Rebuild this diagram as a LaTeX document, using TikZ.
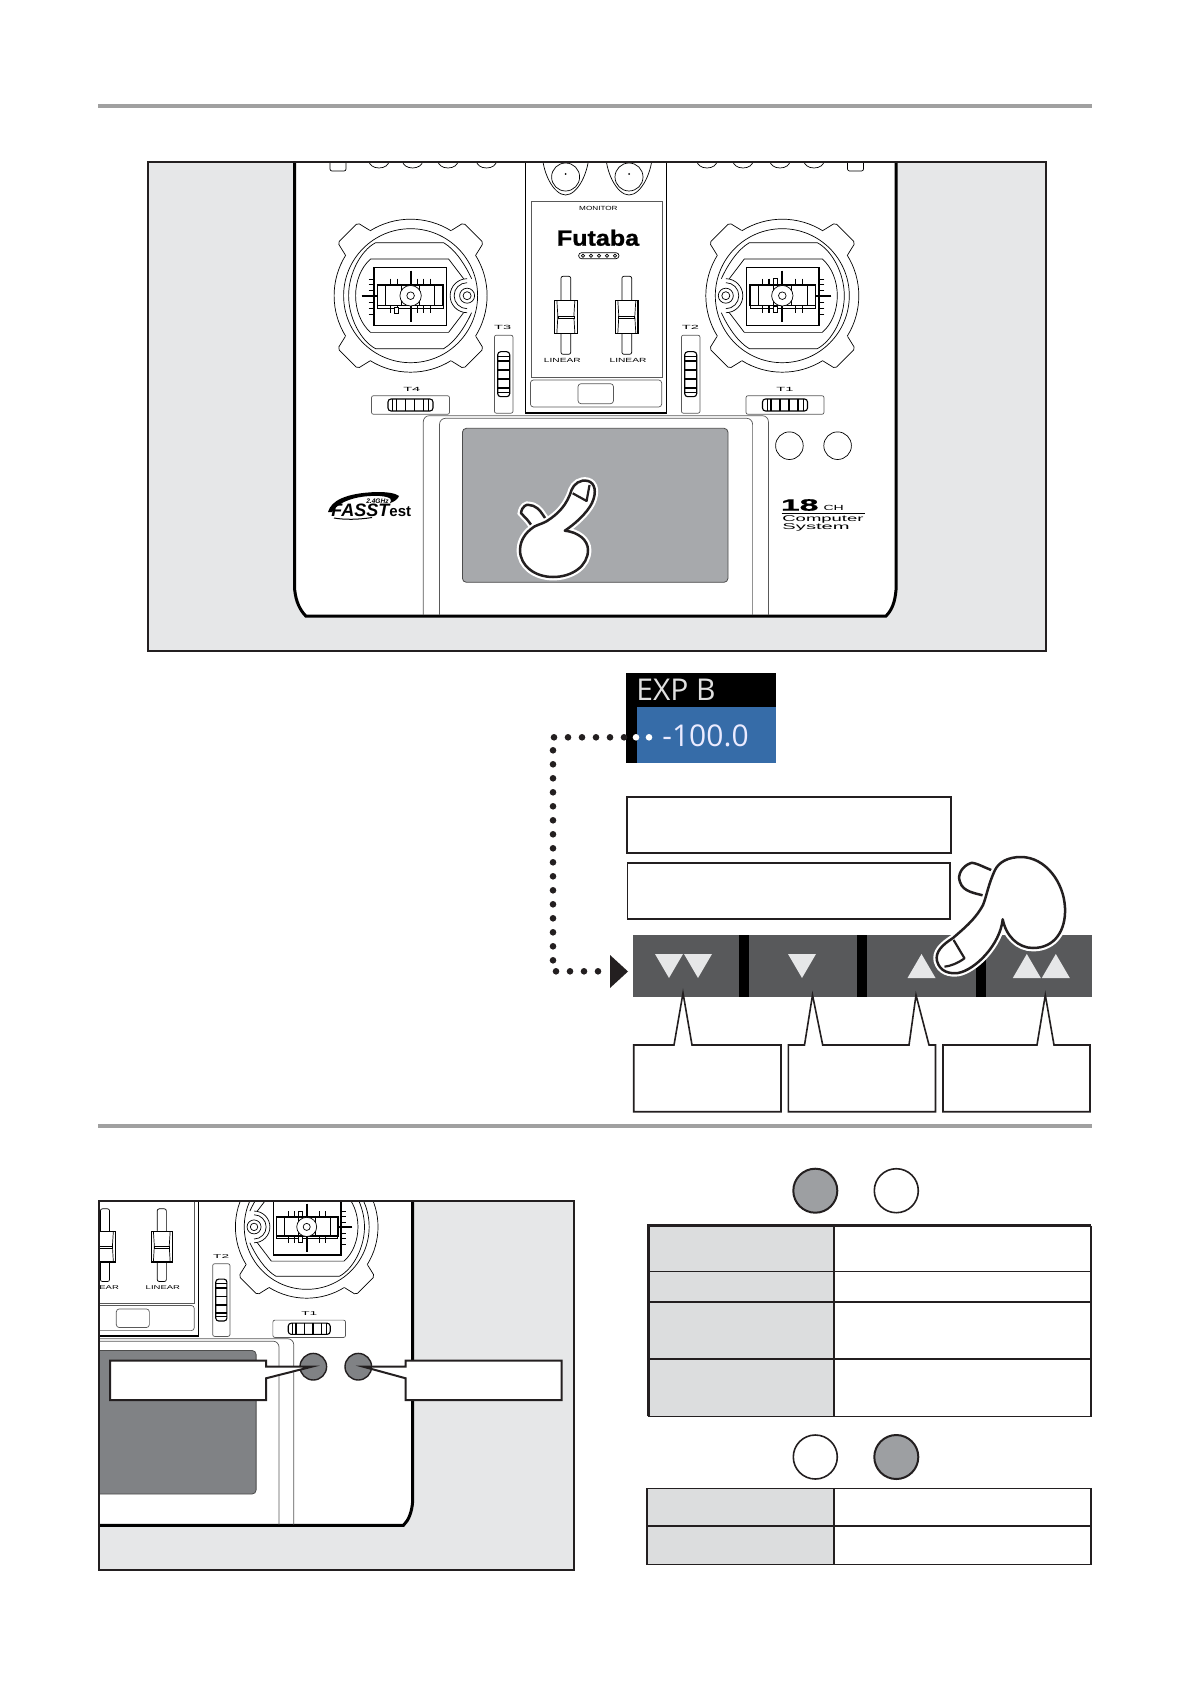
\documentclass[tikz,border=0pt]{standalone}
\usepackage{fontspec}
\setsansfont{Liberation Sans}
\newfontfamily\expfont{Open Sans}
\newfontfamily\logofont{Liberation Sans}[BoldFeatures={FakeBold=1.2,FakeStretch=1.14}]
\usetikzlibrary{positioning}
\definecolor{inkblack}{HTML}{231F20}
\definecolor{panelgray}{HTML}{E6E7E8}
\definecolor{screenlight}{HTML}{A7A9AC}
\definecolor{screendark}{HTML}{808285}
\definecolor{bargray}{HTML}{58595B}
\definecolor{rulegray}{HTML}{A0A0A0}
\definecolor{cellgray}{HTML}{DCDDDE}
\definecolor{ledgray}{HTML}{9D9FA2}
\definecolor{valueblue}{HTML}{366CA8}
\tikzset{
  hairline/.style={line width=.35pt, draw=black},
  softline/.style={line width=.35pt, draw=black!65},
  inkline/.style={line width=1.25pt, draw=inkblack},
  boxline/.style={line width=1pt, draw=inkblack, fill=white},
  techlabel/.style={font=\sffamily\fontsize{3}{3}\selectfont, inner sep=0pt, xscale=1.7},
  trimlabel/.style={font=\sffamily\fontsize{3}{3}\selectfont, inner sep=0pt, xscale=2.44},
  handline/.style={line width=1.25pt, draw=inkblack, fill=white, line join=round,
    preaction={draw=white, line width=3.4pt}},
  dotline/.style={line width=3.3pt, draw=inkblack, line cap=round, dash pattern=on 0pt off 7pt},
  tabmid/.style={line width=.8pt, draw=inkblack},
  stickring/.pic={
    \foreach \a in {45,135,225,315} {
      \draw[hairline, rounded corners=1pt] ({\a-13}:77) -- ({\a-9}:90) -- ({\a+9}:90) -- ({\a+13}:77);
      \draw[hairline] ({\a+13}:76.5) arc[start angle=\a+13, end angle=\a+77, radius=76.5];
    }
    \draw[hairline] (0,0) circle[radius=67];
    \draw[hairline] (61,-17) .. controls (55,-30) and (45,-46) .. (33,-53) -- (-35,-53) .. controls (-50,-45) and (-62,-22) .. (-62,0) .. controls (-62,22) and (-50,45) .. (-35,53) -- (33,53) .. controls (45,46) and (55,30) .. (61,17);
    \draw[hairline] (53,-17) -- (38,-36.7) -- (-40,-36.7) .. controls (-50,-28) and (-55,-14) .. (-55,0) .. controls (-55,14) and (-50,28) .. (-40,36.7) -- (38,36.7) -- (53,17);
    \fill[white] (56.5,0) circle[radius=9];
    \draw[hairline] (56.5,0) circle[radius=4];
    \draw[hairline] (56.5,0) circle[radius=7.5];
    \draw[hairline] (56.5,13) arc[start angle=90, end angle=270, radius=13];
    \draw[hairline] (56.5,17) arc[start angle=90, end angle=270, radius=17];
    \draw[line width=.75pt, fill=white] (-36.7,-28.3) rectangle (35.7,30);
    \draw[line width=1pt] (0,-25) -- (0,26.7);
    \draw[line width=1pt] (-49,0) -- (-33,0);
    \foreach \t in {-20,-13.3,6.7,13.3,20} \draw[line width=.55pt] (\t,-17) -- (\t,-10.7) (\t,10) -- (\t,17);
    \foreach \t in {-16.7,-11,-5,6.7,12.3,18.3} \draw[line width=.4pt] (-42,\t) -- (-36.7,\t);
    \draw[hairline] (-33.3,10) rectangle (32.3,12.3);
    \draw[line width=.8pt, fill=white] (-33.3,-10.7) rectangle (32.3,10);
    \draw[hairline] (-25,-10.7) -- (-25,10) (24,-10.7) -- (24,10) (-9,-10.7) -- (-9,10) (9,-10.7) -- (9,10);
    \draw[hairline, fill=white] (0,0) circle[x radius=10.7, y radius=10.3];
    \draw[hairline] (0,0) circle[radius=3.8];
  },
  trimbox/.pic={
    \draw[softline, rounded corners=1pt] (-39,-9.3) rectangle (39,9.3);
    \draw[line width=.55pt, rounded corners=1.5pt] (-22.5,-6) rectangle (22.5,6);
    \foreach \w in {-14,-5,4,13} \draw[line width=.8pt] (\w,-6) -- (\w,6);
    \foreach \w in {-18,18} \draw[hairline] (\w,-6) -- (\w,6);
  },
  linearfader/.pic={
    \draw[hairline, rounded corners=1pt] (-4.9,-39) rectangle (4.9,39);
    \draw[line width=.55pt, fill=white] (-11.2,-15) rectangle (11.2,18);
    \draw[hairline] (-9,-15) -- (-8,1) -- (-9,18) (9,-15) -- (8,1) -- (9,18);
    \draw[line width=.35pt, fill=white] (-8,1) rectangle (8,3.5);
  }
}
\newcommand{\radiobody}[1]{%
  \draw[line width=1.5pt, draw=black, fill=white] (294.7,140) -- (294.7,590) .. controls (296,602) and (300,610) .. (305.8,616) -- (886,616) .. controls (892,610) and (895,602) .. (896,590) -- (896,140) -- cycle;
  % top edge switches
  \foreach \x in {379,412.6,448,486.5,707,743,780,814} \draw[hairline] (\x,161) circle[x radius=10, y radius=7];
  \foreach \x in {330,847.5} \draw[hairline, rounded corners=1pt] (\x,150) rectangle (\x+16,171);
  % centre column
  \draw[line width=.75pt] (525.7,140) rectangle (666.4,413);
  \foreach \x in {565.6,629} {
    \draw[hairline] (\x-23.5,150) .. controls (\x-24,172) and (\x-12,195) .. (\x,195) .. controls (\x+12,195) and (\x+24,172) .. (\x+23.5,150);
    \draw[hairline] (\x,177) circle[radius=14];
    \fill (\x,174) circle[radius=1];
  }
  \draw[softline] (531,201.7) rectangle (662,377.3);
  \draw[softline, rounded corners=1.5pt] (530.4,380) rectangle (661.7,407);
  \draw[softline, rounded corners=1.5pt] (578,383.7) rectangle (613.5,403.7);
  \draw[hairline, rounded corners=1.5pt] (578.6,252.7) rectangle (619,258.7);
  \foreach \x in {583,591,599,607,615} \draw[hairline] (\x,255.7) circle[radius=1.6];
  \pic at (565.85,315.3) {linearfader};
  \pic at (626.8,315.3) {linearfader};
  % sticks
  \pic at (410.6,295.7) {stickring};
  \pic[xscale=-1] at (782.3,295.7) {stickring};
  \draw[hairline, fill=white] (394.6,307) rectangle (398.6,313);
  \draw[hairline, fill=white] (773.5,278.5) rectangle (777.5,284.5);
  \draw[hairline, fill=white] (773.5,306) rectangle (777.5,312);
  % trims
  \pic[rotate=90] at (503.7,374.2) {trimbox};
  \pic[rotate=90] at (690.7,374.2) {trimbox};
  \pic at (410.5,405) {trimbox};
  \pic at (785,405) {trimbox};
  % touch screen
  \draw[softline, rounded corners=3pt] (423.3,615) -- (423.3,415.7) -- (768.4,415.7) -- (768.4,615);
  \draw[softline, rounded corners=3pt] (439.5,615) -- (439.5,418.3) -- (752.6,418.3) -- (752.6,615);
  \draw[line width=.4pt, draw=black!70, fill=#1, rounded corners=2pt] (462.4,428.3) rectangle (728,582.3);
  \draw[hairline] (789.4,445.7) circle[radius=13.8];
  \draw[hairline] (837.6,445.7) circle[radius=13.8];
}
\begin{document}
\begin{tikzpicture}[x=.5pt, y=-.5pt]
\useasboundingbox (0,0) rectangle (1190,1684);
\fill[rulegray] (98,104) rectangle (1092,108);
\fill[rulegray] (98,1124) rectangle (1092,1128);
% upper transmitter view
\fill[panelgray] (148,162) rectangle (1046,651);
\begin{scope}
\clip (148,162) rectangle (1046,651);
\radiobody{screenlight}
\end{scope}
\node[techlabel, xscale=.8] (monitorlabel) at (598.4,208) {MONITOR};
\node[font=\logofont\bfseries\fontsize{11}{11}\selectfont, inner sep=0pt] (brandlabel) at (598,237.8) {Futaba};
\node[techlabel] (linearleft) at (562.4,360.7) {LINEAR};
\node[techlabel] (linearright) at (628,360.7) {LINEAR};
\node[trimlabel] (trimthree) at (502.6,327.7) {T3};
\node[trimlabel] (trimtwo) at (690.5,327.7) {T2};
\node[trimlabel] (trimfour) at (411.8,389) {T4};
\node[trimlabel] (trimone) at (785,389) {T1};
% logos
\fill (328,512) .. controls (331,501) and (345,493) .. (377,492) .. controls (387,492) and (395,493) .. (399,496) .. controls (398,499) and (394,502) .. (390,503) .. controls (392,500) and (392,497) .. (380,496) .. controls (360,495) and (340,500) .. (332,512) -- cycle;
\node[font=\sffamily\bfseries\itshape\fontsize{3.3}{3}\selectfont, inner sep=0pt] (bandlabel) at (377.5,501) {2.4GHz};
\node[font=\sffamily\bfseries\fontsize{9}{9}\selectfont, inner sep=0pt, anchor=base west] (fasstlabel) at (331,516.5) {\itshape FASST\upshape\fontsize{7.5}{8}\selectfont est};
\draw[line width=.5pt] (334,518) .. controls (345,520) and (360,519.5) .. (372,517.5);
\node[font=\logofont\bfseries\fontsize{8.2}{8}\selectfont, inner sep=0pt, xscale=1.8] (channelnum) at (799.7,505) {18};
\node[font=\sffamily\fontsize{3.7}{4}\selectfont, inner sep=0pt, xscale=1.9] (channelch) at (833.7,508) {CH};
\draw[line width=.4pt] (781.5,513.3) -- (864.6,513.3);
\node[font=\sffamily\fontsize{4.2}{4}\selectfont, inner sep=0pt, xscale=2.2, anchor=west] (computerlabel) at (781.5,519) {Computer};
\node[font=\sffamily\fontsize{4.2}{4}\selectfont, inner sep=0pt, xscale=2.4, anchor=west] (systemlabel) at (781.5,527) {System};
\draw[inkline] (148,162) rectangle (1046,651);
\draw[handline] (533,529) .. controls (530,521) and (525,518) .. (521,513) .. controls (522,506) and (527,504) .. (529,505) .. controls (535,505) and (540,510) .. (543,515) -- (547,521);
\draw[handline] (564.8,530.7) .. controls (575,524) and (587,513) .. (592,503) .. controls (597,492) and (595,483) .. (588,481) .. controls (580,479) and (574,484) .. (571.5,490) .. controls (567,505) and (558,514) .. (547,521) .. controls (540,525) and (535,525) .. (531,529) .. controls (522,536) and (520,545) .. (520,550) .. controls (520,566) and (535,577) .. (553,577) .. controls (572,577) and (588,566) .. (588,550) .. controls (588,540) and (578,532) .. (564.8,530.7) -- cycle;
\draw[line width=1.1pt, draw=inkblack, line join=round] (572.7,493.3) -- (586.6,501) -- (589.5,485);
% value readout
\fill[black] (626,673.4) rectangle (776,763);
\fill[valueblue] (636.5,707.3) rectangle (776,763);
\node[font=\expfont\fontsize{15}{15}\selectfont, text=black!12, inner sep=0pt, anchor=west] (explabel) at (636,690) {EXP B};
\node[font=\expfont\fontsize{15}{15}\selectfont, text=blue!8, inner sep=0pt, anchor=west] (expvalue) at (662,736) {-100.0};
\draw[boxline] (627,797) rectangle (950.5,853);
\draw[boxline, line width=.8pt] (627.5,863) rectangle (950,919);
% step keys
\fill[bargray] (632.6,935) rectangle (1092,996.7);
\foreach \x in {739,857,976} \fill[black] (\x,935) rectangle (\x+10,996.7);
\foreach \x in {655,684,788} \fill[panelgray] (\x,954) -- (\x+28,954) -- (\x+14,978) -- cycle;
\foreach \x in {907.5,1012.8,1041.8} \fill[panelgray] (\x,978) -- (\x+28,978) -- (\x+14,954) -- cycle;
\coordinate (dotstart) at (624,737.3);
\coordinate (dotturn) at (553,737.3);
\coordinate (dotend) at (604,971.3);
\draw[dotline] (dotstart) -- (dotturn) |- (dotend);
\foreach \x in {636,649} \fill[white] (\x,737.3) circle[radius=3.3];
\fill[inkblack] (610,955) -- (628,971.5) -- (610,988) -- cycle;
\draw[boxline, line width=.8pt] (633.7,1045) -- (674,1045) -- (683,993) -- (692,1045) -- (781,1045) -- (781,1111.7) -- (633.7,1111.7) -- cycle;
\draw[boxline, line width=.8pt] (788.3,1045) -- (804.5,1045) -- (812.5,995) -- (822.7,1045) -- (909,1045) -- (916,995) -- (929,1045) -- (935.5,1045) -- (935.5,1111.7) -- (788.3,1111.7) -- cycle;
\draw[boxline, line width=.8pt] (943,1045) -- (1037,1045) -- (1045.3,995) -- (1054,1045) -- (1090,1045) -- (1090,1111.7) -- (943,1111.7) -- cycle;
\draw[handline] (994,871) .. controls (985,868) and (975,862) .. (971,863) .. controls (962,866) and (957,875) .. (960,882) .. controls (963,892) and (975,893) .. (985,896);
\draw[handline] (1002.7,919.3) .. controls (1006,936) and (1018,948) .. (1033,948) .. controls (1055,948) and (1066,930) .. (1065,908) .. controls (1064,882) and (1045,857) .. (1021,857) .. controls (1008,857) and (999,862) .. (995,870) .. controls (988,885) and (987,895) .. (983,905) .. controls (975,920) and (962,930) .. (953,938) .. controls (942,945) and (935,952) .. (937,961) .. controls (940,972) and (950,974) .. (958,973) .. controls (975,970) and (1000,945) .. (1002.7,919.3) -- cycle;
\draw[line width=1.1pt, draw=inkblack, line join=round] (953.6,940) -- (964.5,958.3) .. controls (958,963) and (951,966) .. (944.5,966.7);
% lower transmitter view
\fill[panelgray] (99,1201) rectangle (574,1570);
\begin{scope}
\clip (99,1201) rectangle (574,1570);
\begin{scope}[shift={(-422.4,951.3)}, scale=.932, transform shape]
\radiobody{screendark}
\node[techlabel] (lowlinearleft) at (562.4,360.7) {LINEAR};
\node[techlabel] (lowlinearright) at (628,360.7) {LINEAR};
\node[trimlabel] (lowtrimtwo) at (690.5,327.7) {T2};
\node[trimlabel] (lowtrimone) at (785,389) {T1};
\end{scope}
\end{scope}
\draw[inkline] (99,1201) rectangle (574,1570);
\foreach \x in {313.3,358.3} \draw[line width=.7pt, draw=inkblack, fill=screendark] (\x,1366.7) circle[radius=13.3];
\draw[boxline] (110,1360.7) -- (266,1360.7) -- (266,1366.7) -- (311.7,1366.7) -- (266,1378.3) -- (266,1400) -- (110,1400) -- cycle;
\draw[boxline] (561.7,1360.7) -- (405.7,1360.7) -- (405.7,1366.7) -- (363.3,1366.7) -- (405.7,1378.3) -- (405.7,1400) -- (561.7,1400) -- cycle;
% lamp states and tables
\draw[line width=1pt, draw=inkblack, fill=ledgray] (815.3,1190.7) circle[radius=22];
\draw[line width=.8pt, draw=inkblack, fill=white] (896.3,1190.7) circle[radius=22];
\draw[line width=.8pt, draw=inkblack, fill=white] (815.3,1457) circle[radius=22];
\draw[line width=1pt, draw=inkblack, fill=ledgray] (896.3,1457) circle[radius=22];
\fill[cellgray] (648.3,1225.7) rectangle (833.7,1416.3);
\draw[line width=1.3pt, draw=inkblack] (648.3,1416.3) -- (648.3,1225.7) -- (1091,1225.7);
\draw[tabmid] (1091,1225.7) -- (1091,1416.3) -- (648.3,1416.3);
\draw[tabmid] (833.7,1225.7) -- (833.7,1416.3);
\draw[line width=.5pt, draw=inkblack] (648.3,1271.3) -- (1091,1271.3);
\foreach \y in {1301.7,1359} \draw[tabmid] (648.3,\y) -- (1091,\y);
\fill[cellgray] (646.7,1488.3) rectangle (833.7,1564.3);
\draw[tabmid] (646.7,1488.3) rectangle (1091,1564.3);
\draw[tabmid] (646.7,1525.7) -- (1091,1525.7);
\draw[tabmid] (833.7,1488.3) -- (833.7,1564.3);
\end{tikzpicture}
\end{document}
